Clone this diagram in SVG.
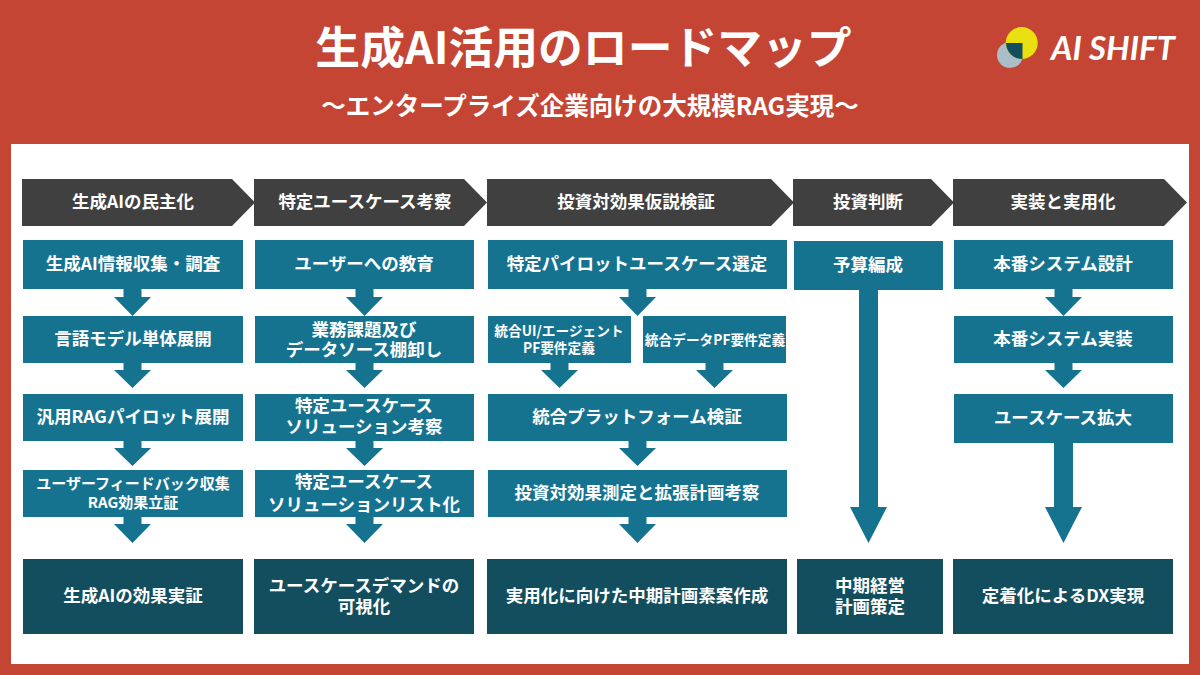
<svg xmlns="http://www.w3.org/2000/svg" width="1200" height="675" viewBox="0 0 1200 675">
<style>
text{font-family:"Noto Sans CJK JP","Noto Sans",sans-serif;font-weight:700;fill:#fff;text-anchor:middle}
.h{fill:#404040}.b{fill:#167390}.d{fill:#134e5e}
.t16{font-size:17.500px}.t15{font-size:15px}.t13{font-size:13.700px}
</style>
<defs>
<path id="a" d="M-9 0H9V8H18.500L0 27L-18.500 8H-9Z" fill="#167390"/>
<path id="a2" d="M-9 0H9V7H18.500L0 25L-18.500 7H-9Z" fill="#167390"/>
</defs>
<rect width="1200" height="675" fill="#c44533"/>
<rect x="11" y="144" width="1178" height="520" fill="#fff"/>
<g id="title">
<text x="583.500" y="64" style="font-size:44.800px">生成AI活用のロードマップ</text>
<text x="590" y="115" style="font-size:24.500px">〜エンタープライズ企業向けの大規模RAG実現〜</text>
</g>
<g id="logo">
<circle cx="1010" cy="55" r="13" fill="#a9bec8"/>
<circle cx="1021.700" cy="43" r="16" fill="#eadf10"/>
<path d="M1006 43H1022.500V59A16 16 0 0 1 1006 43Z" fill="#134e5e"/>
<text x="1113" y="60" style="font-size:33px;font-family:Lato,sans-serif;font-style:italic;font-weight:700">AI SHIFT</text>
</g>
<g id="connectors">
<use href="#a" x="132.500" y="289"/><use href="#a2" x="132.500" y="363"/><use href="#a2" x="132.500" y="441"/><use href="#a" x="132.500" y="516"/>
<use href="#a" x="364.500" y="289"/><use href="#a2" x="364.500" y="363"/><use href="#a2" x="364.500" y="441"/><use href="#a" x="364.500" y="516"/>
<use href="#a" x="637.500" y="289"/><use href="#a2" x="559.500" y="363"/><use href="#a2" x="714.500" y="363"/><use href="#a2" x="637.500" y="441"/><use href="#a" x="637.500" y="516"/>
<path d="M859 290H878V507H887L868.500 543L850 507H859Z" class="b"/>
<use href="#a" x="1063.500" y="289"/><use href="#a2" x="1063.500" y="363"/>
<path d="M1054 443H1073V507H1082L1063.500 543L1045 507H1054Z" class="b"/>
</g>
<g id="headers">
<g id="h1"><path class="h" d="M22 179H232L255 202.500L232 226H22Z"/><text class="t16" x="133" y="208">生成AIの民主化</text></g>
<g id="h2"><path class="h" d="M254 179H464L487 202.500L464 226H254Z"/><text class="t16" x="365" y="208">特定ユースケース考察</text></g>
<g id="h3"><path class="h" d="M487 179H771L794 202.500L771 226H487Z"/><text class="t16" x="636" y="208">投資対効果仮説検証</text></g>
<g id="h4"><path class="h" d="M793 179H931L954 202.500L931 226H793Z"/><text class="t16" x="868" y="208">投資判断</text></g>
<g id="h5"><path class="h" d="M953 179H1164L1187 202.500L1164 226H953Z"/><text class="t16" x="1063" y="208">実装と実用化</text></g>
</g>
<g id="c1">
<g id="n11"><rect class="b" x="23" y="240" width="220" height="49"/><text class="t16" x="133" y="270">生成AI情報収集・調査</text></g>
<g id="n12"><rect class="b" x="23" y="316" width="220" height="47"/><text class="t16" x="133" y="345">言語モデル単体展開</text></g>
<g id="n13"><rect class="b" x="23" y="394" width="220" height="47"/><text class="t16" x="133" y="423">汎用RAGパイロット展開</text></g>
<g id="n14"><rect class="b" x="23" y="470" width="220" height="47"/><text style="font-size:15px" x="133" y="489"><tspan x="133">ユーザーフィードバック収集</tspan><tspan x="133" dy="19">RAG効果立証</tspan></text></g>
<g id="n15"><rect class="d" x="23" y="559" width="220" height="75"/><text class="t16" x="133" y="602">生成AIの効果実証</text></g>
</g>
<g id="c2">
<g id="n21"><rect class="b" x="255" y="240" width="219" height="49"/><text class="t16" x="364" y="270">ユーザーへの教育</text></g>
<g id="n22"><rect class="b" x="255" y="316" width="219" height="47"/><text class="t16" x="364" y="336"><tspan x="364">業務課題及び</tspan><tspan x="364" dy="20">データソース棚卸し</tspan></text></g>
<g id="n23"><rect class="b" x="255" y="394" width="219" height="47"/><text class="t16" x="364" y="412"><tspan x="364">特定ユースケース</tspan><tspan x="364" dy="21">ソリューション考察</tspan></text></g>
<g id="n24"><rect class="b" x="255" y="470" width="219" height="47"/><text class="t16" x="364" y="488"><tspan x="364">特定ユースケース</tspan><tspan x="364" dy="23">ソリューションリスト化</tspan></text></g>
<g id="n25"><rect class="d" x="254" y="559" width="220" height="75"/><text class="t16" x="364" y="592"><tspan x="364">ユースケースデマンドの</tspan><tspan x="364" dy="21">可視化</tspan></text></g>
</g>
<g id="c3">
<g id="n31"><rect class="b" x="488" y="240" width="299" height="49"/><text class="t16" x="637" y="270">特定パイロットユースケース選定</text></g>
<g id="n32"><rect class="b" x="488" y="316" width="143" height="47"/><text class="t13" x="559" y="336"><tspan x="559">統合UI/エージェント</tspan><tspan x="559" dy="17">PF要件定義</tspan></text></g>
<g id="n33"><rect class="b" x="643" y="316" width="143" height="47"/><text class="t13" x="715" y="345">統合データPF要件定義</text></g>
<g id="n34"><rect class="b" x="488" y="394" width="299" height="47"/><text class="t16" x="637" y="423">統合プラットフォーム検証</text></g>
<g id="n35"><rect class="b" x="488" y="470" width="299" height="47"/><text class="t16" x="637" y="499">投資対効果測定と拡張計画考察</text></g>
<g id="n36"><rect class="d" x="487" y="559" width="300" height="75"/><text class="t16" x="637" y="602">実用化に向けた中期計画素案作成</text></g>
</g>
<g id="c4">
<g id="n41"><rect class="b" x="794" y="241" width="149" height="49"/><text class="t16" x="868" y="271">予算編成</text></g>
<g id="n42"><rect class="d" x="797" y="559" width="146" height="75"/><text class="t16" x="870" y="592"><tspan x="870">中期経営</tspan><tspan x="870" dy="21">計画策定</tspan></text></g>
</g>
<g id="c5">
<g id="n51"><rect class="b" x="954" y="240" width="219" height="49"/><text class="t16" x="1063" y="270">本番システム設計</text></g>
<g id="n52"><rect class="b" x="954" y="316" width="219" height="47"/><text class="t16" x="1063" y="345">本番システム実装</text></g>
<g id="n53"><rect class="b" x="954" y="394" width="219" height="49"/><text class="t16" x="1063" y="424">ユースケース拡大</text></g>
<g id="n54"><rect class="d" x="953" y="559" width="220" height="75"/><text class="t16" x="1063" y="602">定着化によるDX実現</text></g>
</g>
</svg>
